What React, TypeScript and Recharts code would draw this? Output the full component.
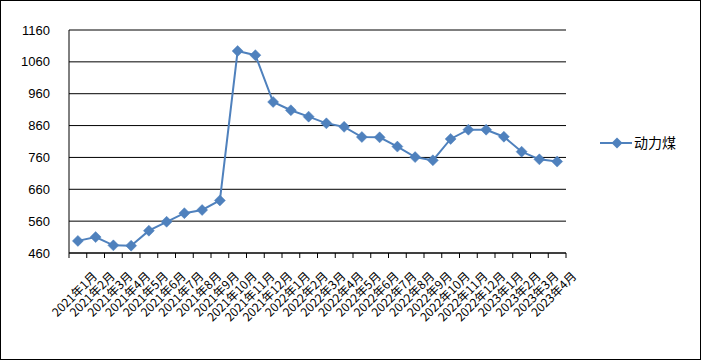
import { LineChart, Line, XAxis, YAxis, CartesianGrid } from 'recharts';

const months = [
    '2021年1月', '2021年2月', '2021年3月', '2021年4月', '2021年5月', '2021年6月', '2021年7月',
    '2021年8月', '2021年9月', '2021年10月', '2021年11月', '2021年12月', '2022年1月', '2022年2月',
    '2022年3月', '2022年4月', '2022年5月', '2022年6月', '2022年7月', '2022年8月', '2022年9月',
    '2022年10月', '2022年11月', '2022年12月', '2023年1月', '2023年2月', '2023年3月', '2023年4月',
];
const coal = [
    498, 510, 484, 483, 530, 558, 585, 595, 625, 1094, 1081, 934, 908, 888,
    867, 856, 824, 823, 794, 761, 751, 818, 847, 847, 825, 778, 754, 747,
];
const yTicks = [460, 560, 660, 760, 860, 960, 1060, 1160];
const seriesName = '动力煤';

const data = months.map((m, i) => ({ month: m, coal: coal[i] }));

const BLUE = '#4F81BD';
const PLOT_LEFT = 69;
const PLOT_RIGHT = 566;
const STEP = (PLOT_RIGHT - PLOT_LEFT) / months.length;

const Diamond = (props: any) => {
    const { cx, cy } = props;
    if (cx == null || cy == null) return null;
    const r = 5.5;
    return (
        <polygon
            points={`${cx},${cy - r} ${cx + r},${cy} ${cx},${cy + r} ${cx - r},${cy}`}
            fill={BLUE}
            stroke={BLUE}
            strokeWidth={0.5}
        />
    );
};

// Excel-style ticks sit between categories, labels rotated 45deg
const MonthTick = (props: any) => {
    const { x, y, payload, index } = props;
    const left = x - STEP / 2;
    const last = index === months.length - 1;
    return (
        <g>
            <line x1={left} y1={y} x2={left} y2={y + 5} stroke="#000" />
            {last && <line x1={x + STEP / 2} y1={y} x2={x + STEP / 2} y2={y + 5} stroke="#000" />}
            <text
                x={x + 20}
                y={y + 24}
                textAnchor="end"
                fontSize={12}
                fill="#000"
                fontFamily="'Noto Sans CJK SC', sans-serif"
                transform={`rotate(-45, ${x + 20}, ${y + 24})`}
            >
                {payload.value}
            </text>
        </g>
    );
};

export default function App() {
    return (
        <div
            style={{
                position: 'absolute',
                left: 0,
                top: 0,
                width: 699,
                height: 358,
                border: '1px solid #000',
                background: '#fff',
            }}
        >
            <div style={{ position: 'absolute', left: -1, top: -1 }}>
                <LineChart
                    width={701}
                    height={360}
                    data={data}
                    margin={{ top: 30, right: 701 - PLOT_RIGHT, bottom: 0, left: 0 }}
                >
                    <CartesianGrid vertical={false} stroke="#000" strokeWidth={1} />
                    <XAxis
                        dataKey="month"
                        interval={0}
                        tickLine={false}
                        tickSize={0}
                        tickMargin={0}
                        height={107}
                        padding={{ left: STEP / 2, right: STEP / 2 }}
                        axisLine={{ stroke: '#000' }}
                        tick={<MonthTick />}
                    />
                    <YAxis
                        width={PLOT_LEFT}
                        domain={[460, 1160]}
                        ticks={yTicks}
                        interval={0}
                        tickLine={false}
                        tickSize={0}
                        tickMargin={19}
                        axisLine={{ stroke: '#000' }}
                        tick={{ fill: '#000', fontSize: 13, fontFamily: "'Liberation Sans', Arial, sans-serif" }}
                    />
                    <Line
                        type="linear"
                        dataKey="coal"
                        name={seriesName}
                        stroke={BLUE}
                        strokeWidth={2}
                        dot={<Diamond />}
                        activeDot={false}
                        isAnimationActive={false}
                    />
                </LineChart>
            </div>
            {/* legend */}
            <svg width={90} height={20} style={{ position: 'absolute', left: 597, top: 132 }}>
                <line x1={2} y1={10} x2={34} y2={10} stroke={BLUE} strokeWidth={2} />
                <polygon points="19,4.5 24.5,10 19,15.5 13.5,10" fill={BLUE} />
                <text x={36} y={15} fontSize={14} fill="#000" fontFamily="'Noto Sans CJK SC', sans-serif">
                    {seriesName}
                </text>
            </svg>
        </div>
    );
}
